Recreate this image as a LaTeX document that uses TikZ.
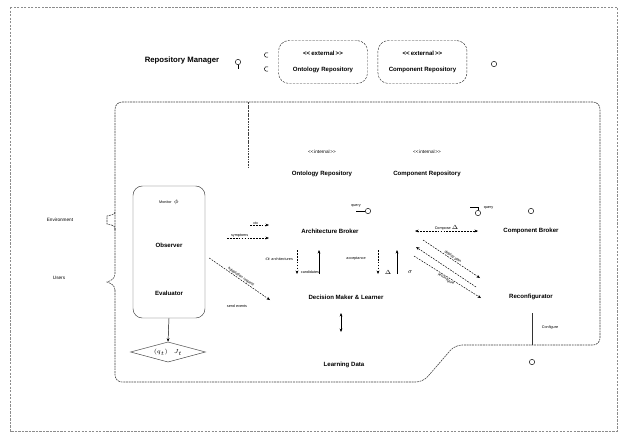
\documentclass[tikz,border=0pt]{standalone}
\usepackage{fontspec}
\setmainfont{Liberation Sans}
\usetikzlibrary{arrows.meta,positioning,calc,shapes.geometric}
\newcommand{\stereo}[1]{<\kern0pt<\,#1\,>\kern0pt>}

\begin{document}
\begin{tikzpicture}[
  x=0.03cm, y=-0.03cm,
  lbl/.style={font=\fontsize{5.2}{6}\selectfont\bfseries, inner sep=1pt},
  tiny/.style={font=\fontsize{3.2}{4}\selectfont, inner sep=0.5pt},
  repo/.style={draw=black!80, dash pattern=on 2pt off 1pt, rounded corners=9pt,
    minimum width=2.67cm, minimum height=1.29cm, align=center,
    font=\fontsize{5.2}{6}\selectfont\bfseries},
  frame/.style={draw=black!75, dash pattern=on 1.6pt off 0.7pt, line width=0.5pt},
  port/.style={circle, draw, inner sep=0pt, minimum size=1.6mm},
  flow/.style={-{Stealth[length=3pt,width=2.4pt]}, line width=0.4pt},
  dflow/.style={flow, dash pattern=on 1.5pt off 1pt},
  >=Stealth, thin
]
\useasboundingbox (0,0) rectangle (621,434);
\draw[black!45, dash pattern=on 2pt off 1pt] (10,7) rectangle (617,431);

% external repositories
\node[font=\fontsize{6.6}{8}\selectfont\bfseries] (rm) at (182,61) {Repository Manager};
\node[repo] (extonto) at (323,62) {\stereo{external}\\[8pt]Ontology Repository};
\node[repo, right=0.3cm of extonto] (extcomp) {\stereo{external}\\[8pt]Component Repository};
\node[port] (rmport) at (238,62) {};
\draw (rmport.south) -- ++(0,4);
\draw (268,57) arc (60:300:2.4);
\draw (268,71) arc (60:300:2.4);
\node[port] (ecport) at (494,64) {};

% adaptation layer
\draw[frame, rounded corners=6pt]
  (115,230) -- (115,102) -- (600,102) -- (600,345) -- (455,345)
  -- (423,382) -- (115,382) -- (115,290);
\draw[frame] (115,230) -- (115,228) .. controls (115,225) and (110,225) .. (107,224)
  -- (107,216) .. controls (110,215) and (115,215) .. (115,212);
\draw[frame] (115,290) .. controls (115,285) and (110,283) .. (107,282)
  .. controls (110,281) and (115,279) .. (115,274) -- (115,230);
\draw[frame] (248,102) -- (248,168);

\node[tiny, font=\fontsize{4}{5}\selectfont] (env) at (60,220) {Environment};
\node[tiny, font=\fontsize{4}{5}\selectfont] (usr) at (59,278) {Users};

% observer / evaluator
\node[draw=black!75, rounded corners=8pt, minimum width=2.16cm, minimum height=3.96cm]
  (oe) at (169,252) {};
\node[tiny] (mon) at (169,202) {Monitor\ \ $\phi$};
\node[lbl] (obs) at (169,245) {Observer};
\node[lbl] (eval) at (169,293) {Evaluator};
\node[draw=black!75, diamond, aspect=2, minimum width=2.25cm, inner sep=0pt]
  (dec) at (168,352) {\tiny $(q_t)$\quad$J_t$};
\draw[flow] (oe.south) -- (dec.north);

% internal repositories and brokers
\node[lbl, font=\fontsize{4}{5}\selectfont] (into) at (322,152) {\stereo{internal}};
\node[lbl] (onto) at (322,174) {Ontology Repository};
\node[lbl, font=\fontsize{4}{5}\selectfont] (incp) at (427,152) {\stereo{internal}};
\node[lbl] (comp) at (427,174) {Component Repository};

\node[lbl] (archb) at (330,231) {Architecture Broker};
\node[lbl] (compb) at (531,231) {Component Broker};
\node[lbl] (dml) at (346,297) {Decision Maker \& Learner};
\node[lbl] (reconf) at (531,297) {Reconfigurator};
\node[lbl] (ldata) at (344,365) {Learning Data};

% small interfaces
\node[port] (aport) at (368,211) {};
\draw (aport.west) -- ++(-9,0);
\node[tiny, anchor=south] at (356,208) {query};
\node[port] (cport) at (478,213) {};
\draw (cport.north) -- ++(0,-3) -- ++(-8,0);
\node[tiny, anchor=west] at (483,208) {query};
\node[port] (cbport) at (531,211) {};

% observer to architecture broker
\coordinate (o1a) at (250,225);
\coordinate (o1b) at (269,225);
\coordinate (o2a) at (227,238);
\coordinate (o2b) at (269,238);
\draw[dflow] (o1a) -- (o1b);
\draw[dflow] (o2a) -- (o2b);
\node[tiny, above=0pt of $(o1a)!0.3!(o1b)$] {ctx};
\node[tiny, above=0pt of $(o2a)!0.3!(o2b)$] {symptoms};

% observer to decision maker
\coordinate (o3) at (270,300);
\draw[dflow] ($(oe.east)+(4,6)$) -- node[tiny, sloped, above] {adaptation request} (o3);
\node[tiny] at (237,306) {send events};

% architecture broker <-> decision maker
\draw[dflow] (297,250) -- (297,274);
\draw[flow] (319,274) -- (319,250);
\draw[dflow] (378,250) -- (378,274);
\draw[flow] (397,274) -- (397,250);
\node[tiny] at (279,259) {$\alpha$ architectures};
\node[tiny] at (310,272) {candidates};
\node[tiny] at (356,259) {acceptance};
\node[tiny] at (388,272) {$\Delta$};
\node[tiny] at (410,272) {$\sigma$};

% decision maker <-> learning data
\coordinate (dl1) at (341,313);
\coordinate (dl2) at (341,332);
\draw[{Stealth[length=3pt,width=2.4pt]}-{Stealth[length=3pt,width=2.4pt]}, line width=0.4pt]
  (dl1) -- (dl2);

% architecture broker <-> component broker
\coordinate (ac1) at (415,231);
\coordinate (ac2) at (478,231);
\draw[dflow, {Stealth[length=3pt,width=2.4pt]}-{Stealth[length=3pt,width=2.4pt]}] (ac1) -- node[tiny, above] {Compose\ $\Delta$} (ac2);

% brokers <-> reconfigurator
\coordinate (r1a) at (423,240);
\coordinate (r1b) at (480,278);
\coordinate (r2a) at (416,247);
\coordinate (r2b) at (476,287);
\coordinate (r3a) at (414,256);
\coordinate (r3b) at (481,298);
\draw[dflow] (r1a) -- node[tiny, sloped, above] {deploy plan} (r1b);
\draw[dflow] (r2b) -- (r2a);
\draw[dflow] (r3a) -- node[tiny, sloped, below] {reconfigure} (r3b);

% reconfigurator to system
\node[port] (rport) at (532,362) {};
\coordinate (rc) at (532,345);
\draw[black!80] (532,313) -- (rc);
\node[tiny] at (550,328) {Configure};
\end{tikzpicture}
\end{document}
